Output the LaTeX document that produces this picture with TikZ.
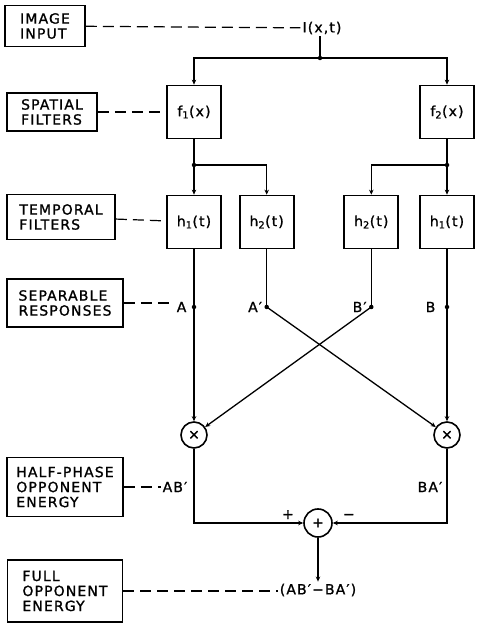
\documentclass[tikz,border=0pt]{standalone}
\usepackage{fontspec}
\newfontfamily\labfont[LetterSpace=8, FakeBold=1.2]{DejaVu Sans}
\usepackage{tikz}
\usetikzlibrary{arrows.meta, positioning}
\newcommand{\sz}{\fontsize{14}{15}\selectfont}

\begin{document}
\begin{tikzpicture}[
    x=1pt, y=1pt,
    every node/.style={font=\labfont\sz},
    lbl/.style={rectangle, draw, line width=1.8pt, align=left, inner sep=3pt},
    filt/.style={rectangle, draw, line width=1.7pt, minimum width=54pt, minimum height=53pt, inner sep=1pt},
    op/.style={circle, draw, line width=1.6pt, minimum size=26pt, inner sep=0pt},
    arr/.style={-{Stealth[length=5pt, width=4.5pt]}, line width=1.3pt},
    wire/.style={line width=1.3pt},
    lead/.style={line width=1.2pt, dash pattern=on 11pt off 6pt},
    dot/.style={circle, fill, inner sep=0pt, minimum size=4.5pt},
    sig/.style={inner sep=2pt},
]
    \useasboundingbox (0,0) rectangle (486,638);

    % stage labels
    \node[lbl, minimum width=80pt, minimum height=41pt] (imgin) at (45,612) {IMAGE\\INPUT};
    \node[lbl, minimum width=90pt, minimum height=38pt] (spatial) at (52,526) {SPATIAL\\FILTERS};
    \node[lbl, minimum width=108pt, minimum height=45pt] (temporal) at (61,421) {TEMPORAL\\FILTERS};
    \node[lbl, minimum width=116pt, minimum height=48pt] (separable) at (65,335) {SEPARABLE\\RESPONSES};
    \node[lbl, minimum width=116pt, minimum height=59pt] (halfphase) at (65,151) {HALF-PHASE\\OPPONENT\\ENERGY};
    \node[lbl, minimum width=115pt, minimum height=62pt] (full) at (65,47) {FULL\\OPPONENT\\ENERGY};

    % input and spatial filters
    \node[sig] (img) at (322,610) {I(x,t)};
    \coordinate (split) at (320,580);
    \node[filt] (f1) at (194,526) {f\textsubscript{1}(x)};
    \node[filt] (f2) at (447,526) {f\textsubscript{2}(x)};

    % temporal filters
    \coordinate (jl) at (194,473);
    \coordinate (jr) at (447,473);
    \node[filt] (h1l) at (194,416) {h\textsubscript{1}(t)};
    \node[filt, right=17pt of h1l] (h2l) {h\textsubscript{2}(t)};
    \node[filt] (h1r) at (447,416) {h\textsubscript{1}(t)};
    \node[filt, left=20pt of h1r] (h2r) {h\textsubscript{2}(t)};

    % separable responses
    \node[dot] (a) at (194,331) {};
    \node[dot] (ap) at (h2l |- a) {};
    \node[dot] (bp) at (h2r |- a) {};
    \node[dot] (b) at (447,331) {};
    \node[sig, left=3pt of a] (atxt) {A};
    \node[sig, left=0pt of ap] (aptxt) {A′};
    \node[sig, left=0pt of bp] (bptxt) {B′};
    \node[sig, left=7pt of b] (btxt) {B};

    % multipliers and sum
    \node[op] (multl) at (194,203) {×};
    \node[op] (multr) at (447,203) {×};
    \node[sig] (abp) at (175,151) {AB′};
    \node[sig] (bap) at (430,151) {BA′};
    \node[op, minimum size=28pt] (sum) at (318,115) {+};
    \node[sig] (out) at (318,48) {(AB′−BA′)};

    % dashed leads
    \draw[lead] (imgin) -- (img);
    \draw[lead] (spatial) -- (f1);
    \draw[lead] (temporal) -- (h1l);
    \draw[lead] (separable.east) -- (atxt.west |- separable.east);
    \draw[lead] (halfphase) -- (abp);
    \draw[lead] (full.east) -- (out.west |- full.east);

    % signal flow
    \draw[wire] (img.south -| split) -- (split);
    \draw[arr] (split) -| (f1.north);
    \draw[arr] (split) -| (f2.north);
    \draw[arr] (f1) -- (h1l);
    \draw[arr] (jl) -| (h2l.north);
    \draw[arr] (f2) -- (h1r);
    \draw[arr] (jr) -| (h2r.north);
    \draw[arr] (h1l) -- (multl);
    \draw[arr] (h1r) -- (multr);
    \draw[wire] (h2l) -- (ap.center);
    \draw[wire] (h2r) -- (bp.center);
    \draw[arr] (ap.center) -- (multr);
    \draw[arr] (bp.center) -- (multl);
    \draw[arr] (multl) |- (sum) node[pos=0.93, above] {+};
    \draw[arr] (multr) |- (sum) node[pos=0.93, above] {−};
    \draw[arr] (sum) -- (out);

    \node[dot] at (split) {};
    \node[dot] at (jl) {};
    \node[dot] at (jr) {};
\end{tikzpicture}
\end{document}
